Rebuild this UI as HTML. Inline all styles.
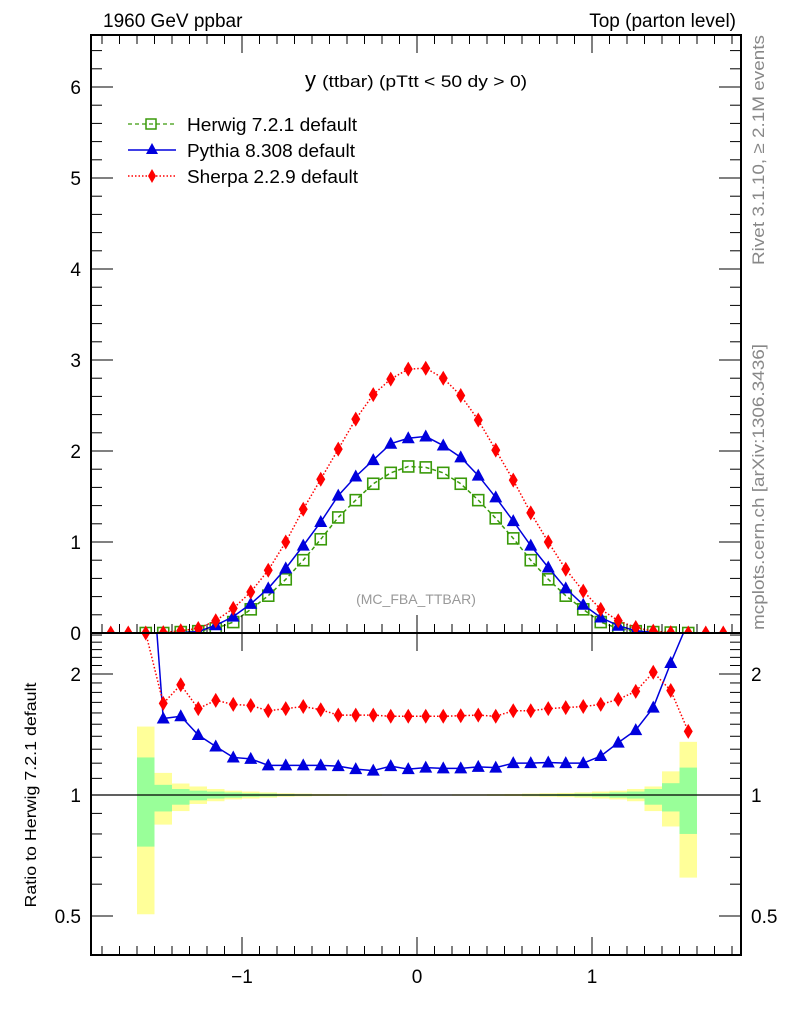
<!DOCTYPE html>
<html><head><meta charset="utf-8"><style>
body{margin:0;background:#fff}
svg text{font-family:"Liberation Sans",sans-serif}
</style></head><body>
<svg id="c" width="786" height="1024" viewBox="0 0 786 1024" xmlns="http://www.w3.org/2000/svg">
<text x="103" y="27" font-size="19">1960 GeV ppbar</text>
<text x="736" y="27" font-size="19" text-anchor="end">Top (parton level)</text>
<text x="305" y="87" font-size="22">y <tspan font-size="17" textLength="205" lengthAdjust="spacingAndGlyphs">(ttbar) (pTtt &lt; 50 dy &gt; 0)</tspan></text>
<text transform="translate(764,265) rotate(-90)" font-size="17" fill="#888" textLength="230" lengthAdjust="spacingAndGlyphs">Rivet 3.1.10, ≥ 2.1M events</text>
<text transform="translate(764,630) rotate(-90)" font-size="17" fill="#888" textLength="286" lengthAdjust="spacingAndGlyphs">mcplots.cern.ch [arXiv:1306.3436]</text>
<text x="416" y="604" font-size="14" fill="#999" text-anchor="middle">(MC_FBA_TTBAR)</text>
<text transform="translate(36,795) rotate(-90)" font-size="16" text-anchor="middle" textLength="225" lengthAdjust="spacingAndGlyphs">Ratio to Herwig 7.2.1 default</text>
<g id="legend">
 <g><line x1="128" y1="124" x2="176" y2="124" stroke="#3a9a0a" stroke-width="1.3" stroke-dasharray="4,3"/><rect x="146" y="119" width="10" height="10" fill="none" stroke="#3a9a0a" stroke-width="1.5"/><text x="187" y="131" font-size="18" textLength="170" lengthAdjust="spacingAndGlyphs">Herwig 7.2.1 default</text></g>
 <g><line x1="128" y1="150" x2="176" y2="150" stroke="#0000dd" stroke-width="1.5"/><path d="M152,143 L158,154 L146,154Z" fill="#0000dd"/><text x="187" y="157" font-size="18" textLength="168" lengthAdjust="spacingAndGlyphs">Pythia 8.308 default</text></g>
 <g><line x1="128" y1="176" x2="176" y2="176" stroke="#ff0000" stroke-width="1.5" stroke-dasharray="1.5,2"/><path d="M152,169 L156,176 L152,183 L148,176Z" fill="#ff0000"/><text x="187" y="183" font-size="18" textLength="171" lengthAdjust="spacingAndGlyphs">Sherpa 2.2.9 default</text></g>
</g>
<g id="plots"></g>
</svg>
<script>
const binCenters=[-1.75,-1.65,-1.55,-1.45,-1.35,-1.25,-1.15,-1.05,-0.95,-0.85,-0.75,-0.65,-0.55,-0.45,-0.35,-0.25,-0.15,-0.05,0.05,0.15,0.25,0.35,0.45,0.55,0.65,0.75,0.85,0.95,1.05,1.15,1.25,1.35,1.45,1.55,1.65,1.75];
const herwig=[null,null,0.0,0.0,0.01,0.02,0.05,0.12,0.26,0.41,0.59,0.80,1.03,1.27,1.46,1.64,1.76,1.83,1.82,1.76,1.64,1.46,1.26,1.04,0.80,0.59,0.41,0.26,0.12,0.05,0.02,0.01,0.005,0.0,null,null];
const pythia=[null,null,null,null,0.005,0.015,0.085,0.18,0.32,0.49,0.71,0.96,1.22,1.51,1.72,1.90,2.08,2.14,2.16,2.06,1.93,1.73,1.49,1.23,0.96,0.72,0.49,0.31,0.17,0.08,0.025,0.005,null,null,null,null];
const sherpa=[0.0,0.0,0.0,0.004,0.025,0.05,0.135,0.27,0.45,0.69,1.00,1.36,1.69,2.02,2.35,2.62,2.79,2.90,2.91,2.80,2.61,2.34,2.01,1.68,1.32,1.00,0.70,0.46,0.26,0.135,0.06,0.02,0.004,0.0,0.0,0.0];
const ratioPythia=[null,null,6,1.55,1.57,1.41,1.32,1.24,1.23,1.185,1.185,1.185,1.185,1.18,1.16,1.15,1.18,1.16,1.17,1.165,1.165,1.175,1.17,1.2,1.2,1.205,1.2,1.2,1.25,1.35,1.45,1.65,2.13,2.7,null,null];
const ratioSherpa=[null,null,2.53,1.69,1.88,1.64,1.72,1.68,1.67,1.62,1.64,1.66,1.63,1.58,1.58,1.58,1.57,1.57,1.57,1.57,1.575,1.58,1.57,1.62,1.62,1.64,1.65,1.66,1.68,1.73,1.81,2.02,1.82,1.44,null,null];
const yelUp=[null,null,1.48,1.135,1.068,1.05,1.035,1.025,1.02,1.015,1.01,1.008,1.006,1.005,1.004,1.004,1.003,1.003,1.003,1.003,1.004,1.004,1.005,1.006,1.008,1.01,1.012,1.015,1.02,1.025,1.035,1.05,1.145,1.356,null,null];
const yelDn=[null,null,0.505,0.844,0.912,0.95,0.965,0.975,0.98,0.985,0.99,0.992,0.994,0.995,0.996,0.996,0.997,0.997,0.997,0.997,0.996,0.996,0.995,0.994,0.992,0.99,0.988,0.985,0.98,0.975,0.965,0.912,0.835,0.623,null,null];
const grnUp=[null,null,1.24,1.06,1.035,1.025,1.02,1.015,1.01,1.008,1.005,1.004,1.003,1.003,1.002,1.002,1.002,1.002,1.002,1.002,1.002,1.002,1.003,1.003,1.004,1.005,1.006,1.008,1.01,1.015,1.02,1.035,1.07,1.17,null,null];
const grnDn=[null,null,0.744,0.91,0.946,0.97,0.98,0.985,0.99,0.992,0.995,0.996,0.997,0.997,0.998,0.998,0.998,0.998,0.998,0.998,0.998,0.998,0.997,0.997,0.996,0.995,0.994,0.992,0.99,0.985,0.98,0.946,0.91,0.80,null,null];
const xTicks=[-1,0,1];
const yTicks=[0,1,2,3,4,5,6];
const rTicks=[0.5,1,2];
const NS="http://www.w3.org/2000/svg";
const X0=91,X1=741,MT=35,MB=633,RB=955;
const X=v=>417+175*v;
const Y=v=>633-91*v;
const R=v=>795-121*Math.log2(v);
const g=document.getElementById('plots');
function mk(t,a,p){const e=document.createElementNS(NS,t);for(const k in a)e.setAttribute(k,a[k]);(p||g).appendChild(e);return e;}
const clipM=mk('clipPath',{id:'cm'});mk('rect',{x:X0,y:MT,width:X1-X0,height:MB-MT},clipM);
const clipR=mk('clipPath',{id:'cr'});mk('rect',{x:X0,y:MB,width:X1-X0,height:RB-MB},clipR);
const bands=mk('g',{'clip-path':'url(#cr)'});


binCenters.forEach((c,i)=>{if(yelUp[i]==null)return;
 const x=X(c-0.05),w=X(c+0.05)-x;
 const y=mk('rect',{x:x,y:R(yelUp[i]),width:w,height:R(yelDn[i])-R(yelUp[i]),fill:'#ffff99'},bands);
 
 
 const gr=mk('rect',{x:x,y:R(grnUp[i]),width:w,height:R(grnDn[i])-R(grnUp[i]),fill:'#99ff99'},bands);
 
 
});
mk('line',{x1:X0,x2:X1,y1:R(1),y2:R(1),stroke:'#000','stroke-width':1.3});
function series(vals,yf,clip,color,dash,marker,name){
 const gg=mk('g',{'clip-path':clip});
 
 
 let pts=[];binCenters.forEach((c,i)=>{if(vals[i]!=null)pts.push([X(c),yf(vals[i])]);});
 const attrs={points:pts.map(p=>p.join(',')).join(' '),fill:'none',stroke:color,'stroke-width':1.5};
 if(dash)attrs['stroke-dasharray']=dash;
 mk('polyline',attrs,gg);
 pts.forEach(p=>{let m;
  if(marker==='sq')m=mk('rect',{x:p[0]-5.5,y:p[1]-5.5,width:11,height:11,fill:'none',stroke:color,'stroke-width':1.6},gg);
  else if(marker==='tri')m=mk('path',{d:`M${p[0]},${p[1]-7}L${p[0]+6.5},${p[1]+5}L${p[0]-6.5},${p[1]+5}Z`,fill:color},gg);
  else m=mk('path',{d:`M${p[0]},${p[1]-7.5}L${p[0]+4.5},${p[1]}L${p[0]},${p[1]+7.5}L${p[0]-4.5},${p[1]}Z`,fill:color},gg);
  
  
 });
}
series(herwig,Y,'url(#cm)','#3a9a0a','4,3','sq','herwig-series');
series(pythia,Y,'url(#cm)','#0000dd',null,'tri','pythia-series');
series(sherpa,Y,'url(#cm)','#ff0000','1.5,2','dia','sherpa-series');
series(ratioPythia,R,'url(#cr)','#0000dd',null,'tri','pythia-ratio-series');
series(ratioSherpa,R,'url(#cr)','#ff0000','1.5,2','dia','sherpa-ratio-series');
[[MT,MB],[MB,RB]].forEach(([a,b])=>{const f=mk('rect',{x:X0,y:a,width:X1-X0,height:b-a,fill:'none',stroke:'#000','stroke-width':2});});
for(let k=-18;k<=18;k++){const v=k/10,x=X(v);if(x<X0||x>X1)continue;const L=(k%10===0)?18:9;
 [[MB,-1],[MT,1],[RB,-1]].forEach(([y0,d])=>mk('line',{x1:x,x2:x,y1:y0,y2:y0+d*L,stroke:'#000','stroke-width':1}));
 if(k%10===0){mk('line',{x1:x,x2:x,y1:MB,y2:MB+18,stroke:'#000','stroke-width':1});}
}
xTicks.forEach(v=>{const t=mk('text',{x:X(v),y:983,'font-size':19,'text-anchor':'middle'});t.textContent=(v<0?'\u2212':'')+Math.abs(v);});
for(let k=0;k<=32;k++){const v=k/5,y=Y(v);if(y<MT)continue;const L=(k%5===0)?22:11;
 mk('line',{x1:X0,x2:X0+L,y1:y,y2:y,stroke:'#000'});mk('line',{x1:X1,x2:X1-L,y1:y,y2:y,stroke:'#000'});}
yTicks.forEach(v=>{const t=mk('text',{x:81,y:Y(v)+7,'font-size':19,'text-anchor':'end'});t.textContent=v;});
[0.5,0.6,0.7,0.8,0.9,1,1.1,1.2,1.3,1.4,1.5,1.6,1.7,1.8,1.9,2,2.1,2.2,2.3,2.4,2.5].forEach(v=>{const y=R(v);if(y<MB||y>RB)return;const L=rTicks.includes(v)?22:11;
 mk('line',{x1:X0,x2:X0+L,y1:y,y2:y,stroke:'#000'});mk('line',{x1:X1,x2:X1-L,y1:y,y2:y,stroke:'#000'});});
rTicks.forEach(v=>{[[81,'end'],[751,'start']].forEach(([x,a])=>{const t=mk('text',{x:x,y:R(v)+7,'font-size':19,'text-anchor':a});t.textContent=v;});});
</script>
</body></html>
